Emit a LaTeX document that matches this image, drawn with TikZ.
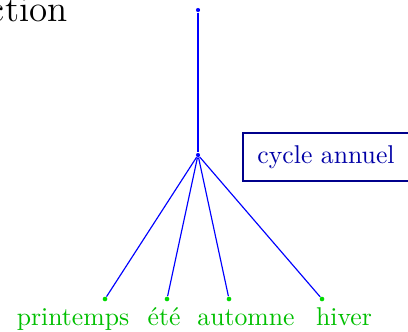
\documentclass[tikz,border=0pt]{standalone}
\begin{document}
\begin{tikzpicture}[x=0.389pt,y=-0.389pt,
  edge/.style={blue,line width=0.45pt},
  bdot/.style={circle,fill=blue,inner sep=0pt,minimum size=1.6pt},
  gdot/.style={circle,fill=green!85!black,inner sep=0pt,minimum size=1.8pt},
  lab/.style={text=green!75!black,anchor=base,inner sep=0pt},
  boxst/.style={draw=blue!55!black,text=blue!65!black,line width=0.45pt,inner sep=0pt,minimum width=166*0.389pt,minimum height=48*0.389pt}]
\useasboundingbox (0,0) rectangle (408,331);
\node[anchor=base east,inner sep=0pt,font=\Large] (title) at (68,22) {ction};
\node[bdot] (top) at (198,10) {};
\node[bdot] (mid) at (198,155) {};
\node[gdot] (p) at (105,299) {};
\node[gdot] (e) at (167,299) {};
\node[gdot] (a) at (229,299) {};
\node[gdot] (h) at (322,299) {};
\draw[edge] (top) -- (mid);
\draw[edge] (mid) -- (p);
\draw[edge] (mid) -- (e);
\draw[edge] (mid) -- (a);
\draw[edge] (mid) -- (h);
\node[lab] (lp) at (73,325) {printemps};
\node[lab] (le) at (164,325) {été};
\node[lab] (la) at (246,325) {automne};
\node[lab] (lh) at (344,325) {hiver};
\node[boxst] (cyc) at (326,157) {cycle annuel};
\end{tikzpicture}
\end{document}
